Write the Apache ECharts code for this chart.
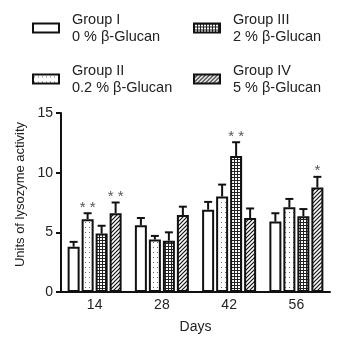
<!DOCTYPE html>
<html>
<head>
<meta charset="utf-8">
<script src="https://cdn.jsdelivr.net/npm/echarts@6/dist/echarts.min.js"></script>
<style>
  html, body { margin: 0; padding: 0; background: #fff; }
  #chart { width: 341px; height: 341px; }
</style>
</head>
<body>
<div id="chart"></div>
<script>
var days = ['14', '28', '42', '56'];
var groupNames = ['Group I', 'Group II', 'Group III', 'Group IV'];
var doseLabels = ['0 % β-Glucan', '0.2 % β-Glucan', '2 % β-Glucan', '5 % β-Glucan'];

var group1 = [3.8, 5.6, 6.9, 5.9];
var group2 = [6.1, 4.4, 8.0, 7.1];
var group3 = [4.9, 4.3, 11.4, 6.35];
var group4 = [6.6, 6.45, 6.2, 8.75];

var err1 = [0.4, 0.6, 0.65, 0.7];
var err2 = [0.5, 0.3, 1.0, 0.7];
var err3 = [0.65, 0.7, 1.15, 0.6];
var err4 = [0.9, 0.7, 0.8, 0.9];

var stars1 = ['', '', '', ''];
var stars2 = ['* *', '', '', ''];
var stars3 = ['', '', '* *', ''];
var stars4 = ['* *', '', '', '*'];

var yTicks = [0, 5, 10, 15];

var FONT = 'Liberation Sans, Arial, sans-serif';
var BAR_W = 12;
var BAR_STEP = 14;

function makePattern(kind) {
    var c = document.createElement('canvas');
    var ctx = c.getContext('2d');
    if (kind === 'dots') {
        c.width = 4; c.height = 5;
        ctx.fillStyle = '#fff';
        ctx.fillRect(0, 0, 4, 5);
        ctx.fillStyle = '#666';
        ctx.fillRect(1, 2, 1, 1);
    } else if (kind === 'check') {
        c.width = 3; c.height = 3;
        ctx.fillStyle = '#222';
        ctx.fillRect(0, 0, 3, 3);
        ctx.fillStyle = '#fff';
        ctx.fillRect(1, 1, 2, 2);
    } else if (kind === 'hatch') {
        c.width = 4; c.height = 4;
        ctx.fillStyle = '#fff';
        ctx.fillRect(0, 0, 4, 4);
        ctx.strokeStyle = '#111';
        ctx.lineWidth = 1.2;
        ctx.beginPath();
        ctx.moveTo(-1, 5); ctx.lineTo(5, -1);
        ctx.moveTo(-1, 1); ctx.lineTo(1, -1);
        ctx.moveTo(3, 5); ctx.lineTo(5, 3);
        ctx.stroke();
    }
    return { image: c, repeat: 'repeat' };
}

var fills = ['#fff', makePattern('dots'), makePattern('check'), makePattern('hatch')];
var values = [group1, group2, group3, group4];
var errors = [err1, err2, err3, err4];
var stars = [stars1, stars2, stars3, stars4];

var chart = echarts.init(document.getElementById('chart'));

var barSeries = groupNames.map(function (name, i) {
    return {
        name: name,
        type: 'bar',
        barWidth: BAR_W,
        barGap: ((BAR_STEP - BAR_W) / BAR_W * 100) + '%',
        data: values[i],
        itemStyle: {
            color: fills[i],
            borderColor: '#111',
            borderWidth: 2
        },
        z: 3
    };
});

var errData = [];
groupNames.forEach(function (n, i) {
    days.forEach(function (d, j) {
        errData.push([j, values[i][j], errors[i][j], i, stars[i][j]]);
    });
});

var errSeries = {
    type: 'custom',
    silent: true,
    z: 2,
    data: errData,
    renderItem: function (params, api) {
        var g = api.value(3);
        var off = (g - 1.5) * BAR_STEP;
        var base = api.coord([api.value(0), api.value(1)]);
        var top = api.coord([api.value(0), api.value(1) + api.value(2)]);
        var x = base[0] + off;
        var children = [
            { type: 'line', shape: { x1: x, y1: base[1], x2: x, y2: top[1] },
              style: { stroke: '#111', lineWidth: 2 } },
            { type: 'line', shape: { x1: x - 4, y1: top[1], x2: x + 4, y2: top[1] },
              style: { stroke: '#111', lineWidth: 2 } }
        ];
        var s = errData[params.dataIndex][4];
        if (s) {
            children.push({
                type: 'text',
                style: { x: x, y: top[1] + 2, text: s, textAlign: 'center', textVerticalAlign: 'bottom',
                         fill: '#555', font: '15px ' + FONT }
            });
        }
        return { type: 'group', children: children };
    }
};

function legendFor(i, left, top) {
    return {
        data: [groupNames[i]],
        left: left,
        top: top,
        padding: 0,
        icon: 'rect',
        itemWidth: 26,
        itemHeight: 9,
        selectedMode: false,
        itemStyle: { borderColor: '#111', borderWidth: 2 },
        formatter: function (name) {
            return name + '\n' + doseLabels[groupNames.indexOf(name)];
        },
        textStyle: {
            fontFamily: FONT,
            fontSize: 14.5,
            lineHeight: 17,
            color: '#222',
            padding: [0, 0, 0, 8]
        }
    };
}

var option = {
    animation: false,
    backgroundColor: '#fff',
    textStyle: { fontFamily: FONT },
    legend: [
        legendFor(0, 32, 11),
        legendFor(2, 193, 11),
        legendFor(1, 32, 62),
        legendFor(3, 193, 62)
    ],
    grid: { left: 61, right: 11, top: 113, bottom: 49 },
    xAxis: {
        type: 'category',
        data: days,
        name: 'Days',
        nameLocation: 'middle',
        nameGap: 28,
        nameTextStyle: { fontSize: 14, color: '#222', fontFamily: FONT },
        axisLine: { lineStyle: { color: '#111', width: 2 } },
        axisTick: { alignWithLabel: true, length: 5, lineStyle: { width: 2, color: '#111' } },
        axisLabel: { fontSize: 14, color: '#222', margin: 6, fontFamily: FONT }
    },
    yAxis: {
        type: 'value',
        min: yTicks[0],
        max: yTicks[yTicks.length - 1],
        interval: 5,
        name: 'Units of lysozyme activity',
        nameLocation: 'middle',
        nameGap: 30,
        nameTextStyle: { fontSize: 13, color: '#222', fontFamily: FONT, padding: [0, 0, 0, 16] },
        axisLine: { show: true, lineStyle: { color: '#111', width: 2 } },
        axisTick: { show: true, length: 5, lineStyle: { width: 2, color: '#111' } },
        axisLabel: { fontSize: 14, color: '#222', margin: 8, fontFamily: FONT },
        splitLine: { show: false }
    },
    series: barSeries.concat([errSeries])
};

chart.setOption(option);
window.addEventListener('resize', function () { chart.resize(); });
</script>
</body>
</html>
